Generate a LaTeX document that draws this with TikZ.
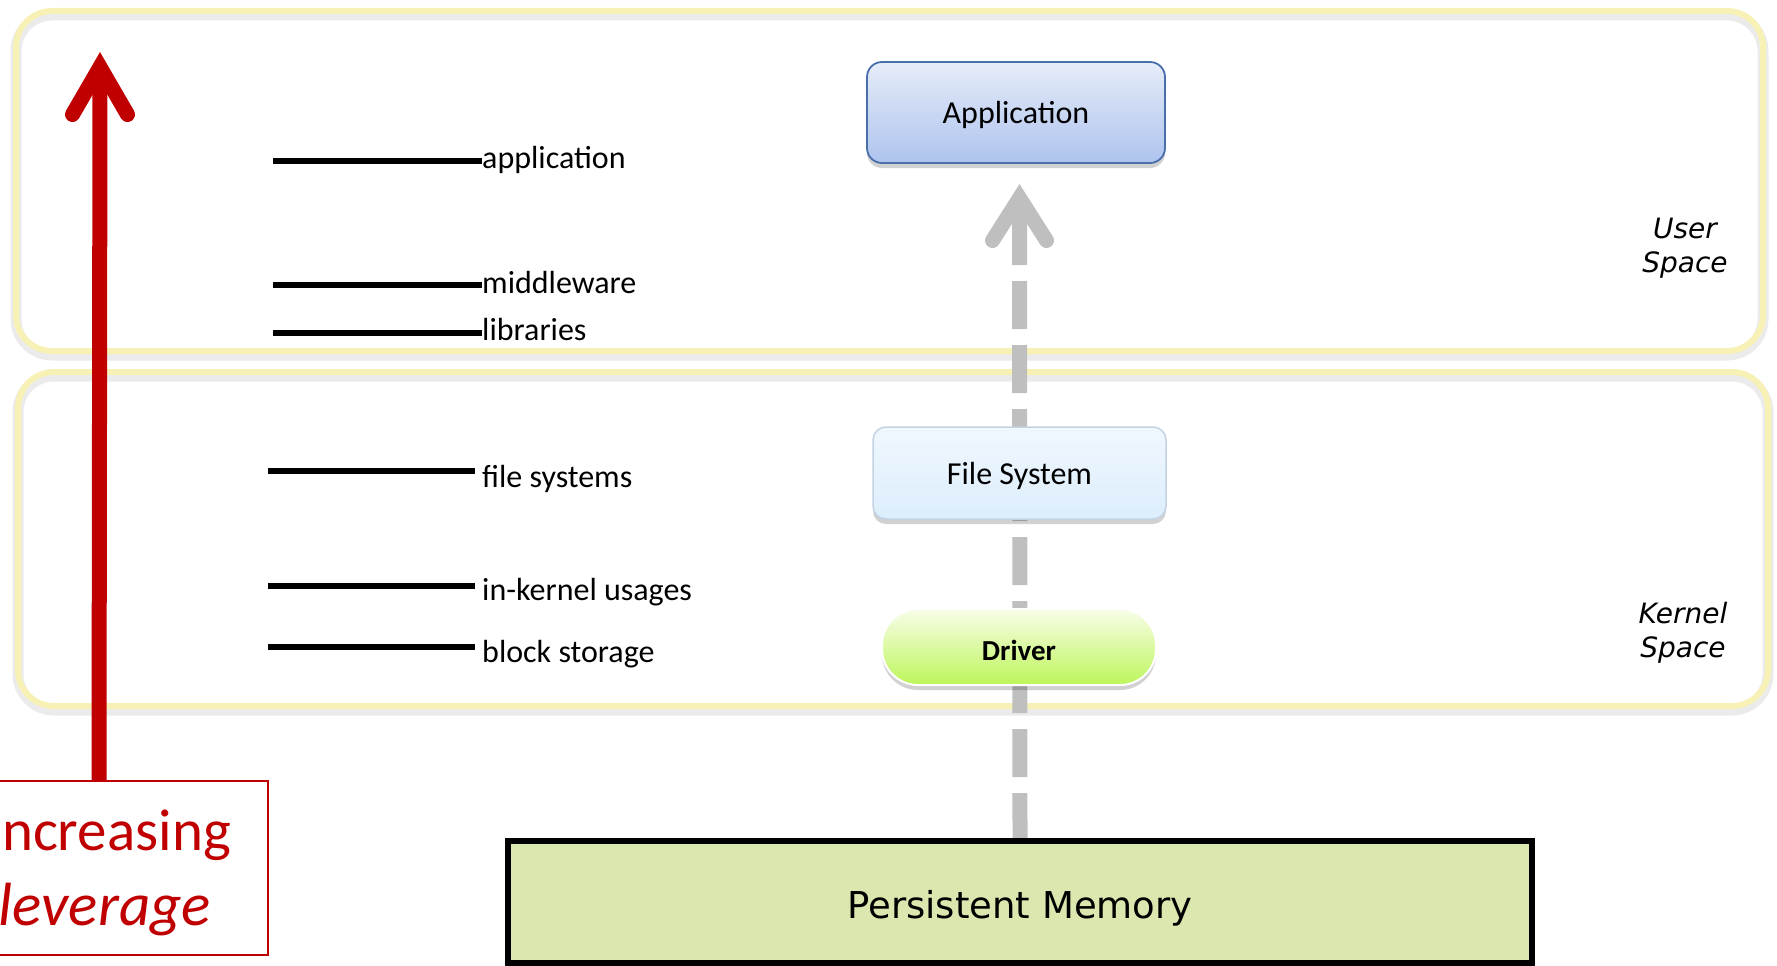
\documentclass[tikz,border=0pt]{standalone}
\usepackage{fontspec}
\setmainfont{Carlito}
\newfontfamily\dejavu{DejaVu Sans}
\usetikzlibrary{shadows,calc}

\definecolor{bandyellow}{HTML}{F8F1B6}
\definecolor{levred}{HTML}{C00000}
\definecolor{arrgrey}{HTML}{BFBFBF}
\definecolor{apptop}{HTML}{E6ECF9}
\definecolor{appbot}{HTML}{AEC3EE}
\definecolor{appedge}{HTML}{4A70AC}
\definecolor{fstop}{HTML}{F0F7FE}
\definecolor{fsbot}{HTML}{DCEEFC}
\definecolor{fsedge}{HTML}{C3D3E3}
\definecolor{drvtop}{HTML}{F9FDE9}
\definecolor{drvbot}{HTML}{BDF65A}
\definecolor{pmfill}{HTML}{DAE8B0}

\pgfdeclarelayer{back}
\pgfdeclarelayer{mid}
\pgfsetlayers{back,mid,main}

\tikzset{
  spaceband/.style={bandyellow, line width=6pt, rounded corners=36pt},
  spaceshade/.style={black!8, line width=11pt, rounded corners=36pt},
  levelbar/.style={line width=6pt, line cap=butt},
  lvl/.style={anchor=base west, inner sep=0pt, font=\fontsize{32}{38}\selectfont},
  softshadow/.style={drop shadow={shadow xshift=0pt, shadow yshift=-5pt, opacity=0.18, fill=black}},
  appbox/.style={draw=appedge, line width=1.8pt, rounded corners=15pt, top color=apptop, bottom color=appbot,
    minimum width=298pt, minimum height=101pt, text depth=0pt, softshadow, font=\fontsize{32}{38}\selectfont},
  fsbox/.style={draw=fsedge, line width=1.5pt, rounded corners=13pt, top color=fstop, bottom color=fsbot,
    minimum width=293pt, minimum height=92pt, text depth=0pt, softshadow, font=\fontsize{32}{38}\selectfont},
  drvbox/.style={draw=white, line width=2pt, rounded corners=36pt, top color=drvtop, bottom color=drvbot,
    minimum width=274pt, minimum height=76pt, text height=26pt, text depth=0pt, softshadow,
    font=\fontsize{29}{34}\selectfont\bfseries},
  pmbox/.style={draw=black, line width=6pt, fill=pmfill, minimum width=1024pt, minimum height=122pt},
  spacelbl/.style={align=center, font=\dejavu\itshape\fontsize{28}{34}\selectfont},
  greyarr/.style={arrgrey, line width=15pt},
  redarr/.style={levred, line width=15pt},
}

\begin{document}
\begin{tikzpicture}[x=1pt, y=-1pt]
\useasboundingbox (0,0) rectangle (1777,966);

% user space and kernel space frames
\begin{pgfonlayer}{back}
  \draw[spaceshade] (16,15) rectangle (1763,355);
  \draw[spaceband]  (16,11) rectangle (1763,351);
  \draw[spaceshade] (18,376) rectangle (1768,710);
  \draw[spaceband]  (18,372) rectangle (1768,706);
\end{pgfonlayer}

% layer boxes of the stack
\node[appbox] (app) at (1016,112.5) {Application};
\node[fsbox]  (fs)  at (1019.5,473) {File System};
\node[drvbox] (drv) at (1019,647) {Driver};
\node[pmbox]  (pm)  at (1020,902) {};
\node[anchor=base, inner sep=0pt, font=\dejavu\fontsize{37}{44}\selectfont] (pmtext) at (1020,918) {Persistent Memory};

% space captions
\node[spacelbl] (user) at (1685,248.5) {User\\Space};
\node[spacelbl] (kern) at (1683,633) {Kernel\\Space};

% dashed data path from memory up to the application
\coordinate (gjoin) at (1019.5,198);
\coordinate (gshaft) at (1019.5,217);
\begin{pgfonlayer}{mid}
  \draw[greyarr, dash pattern=on 48pt off 16pt, dash phase=3pt] (pm.north) -- (gshaft);
  \draw[greyarr] (gjoin) -- ($(gjoin)+(0,67)$);
  \draw[greyarr, line cap=round, line join=miter] ($(gjoin)+(-27,42.5)$) -- (gjoin) -- ($(gjoin)+(27,42.5)$);
\end{pgfonlayer}

% leverage scale on the left
\node[draw=levred, line width=2pt, minimum width=338pt, minimum height=174pt, inner sep=0pt] (lev) at (99,868) {};
\node[anchor=base east, inner sep=0pt, text=levred, font=\fontsize{59}{70}\selectfont] (inc) at (231,850) {Increasing};
\node[anchor=base east, inner sep=0pt, text=levred, font=\fontsize{61}{72}\selectfont\itshape] (lvg) at (211,925) {leverage};

\coordinate (rjoin) at (100,67);
\draw[redarr] (lev.north) -- (rjoin);
\draw[redarr, line cap=round, line join=miter] ($(rjoin)+(-27.5,47.5)$) -- (rjoin) -- ($(rjoin)+(27.5,47.5)$);

% usage levels
\coordinate (u1) at (273,161);
\coordinate (u2) at (273,285);
\coordinate (u3) at (273,333);
\coordinate (k1) at (268,471);
\coordinate (k2) at (268,586);
\coordinate (k3) at (268,647);
\node[lvl] (la) at (482,168) {application};
\node[lvl] (lm) at (482,293) {middleware};
\node[lvl] (ll) at (482,340) {libraries};
\node[lvl] (lf) at (482,487) {file systems};
\node[lvl] (lk) at (482,600) {in-kernel usages};
\node[lvl] (lb) at (482,662) {block storage};
\draw[levelbar] (u1) -- (u1 -| la.west);
\draw[levelbar] (u2) -- (u2 -| lm.west);
\draw[levelbar] (u3) -- (u3 -| ll.west);
\draw[levelbar] (k1) -- ($(k1 -| lf.west)+(-7,0)$);
\draw[levelbar] (k2) -- ($(k2 -| lk.west)+(-7,0)$);
\draw[levelbar] (k3) -- ($(k3 -| lb.west)+(-7,0)$);
\end{tikzpicture}
\end{document}
